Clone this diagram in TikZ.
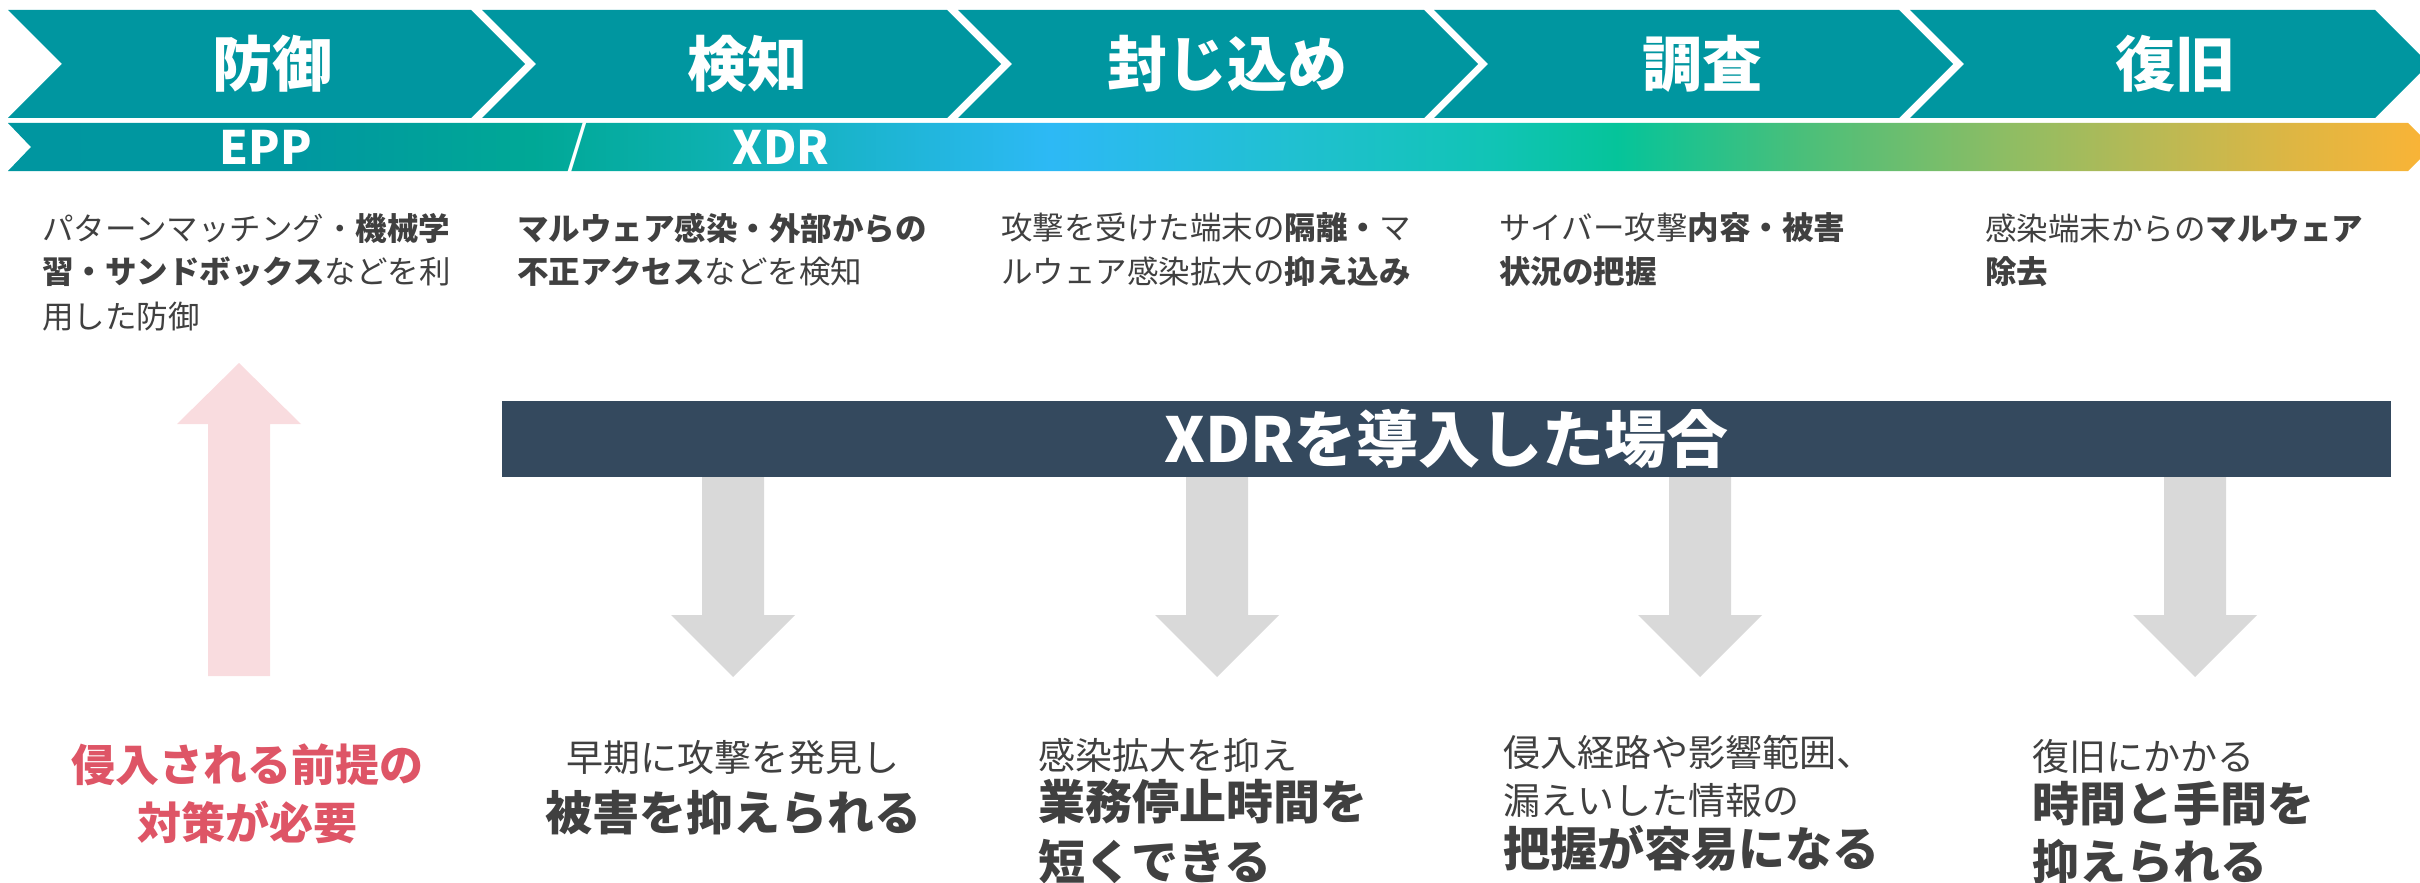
\documentclass[tikz,border=0pt]{standalone}
\usepackage{fontspec}
\setmainfont{Noto Sans CJK JP}
\definecolor{chevcol}{HTML}{0096A0}
\definecolor{bannercol}{HTML}{34495E}
\definecolor{txt}{HTML}{404040}
\definecolor{warnred}{HTML}{DE5566}
\definecolor{pinkcol}{HTML}{F9DCDF}
\definecolor{graycol}{HTML}{D9D9D9}
\definecolor{g0}{HTML}{0096A0}
\definecolor{g1}{HTML}{0098A0}
\definecolor{g2}{HTML}{00A896}
\definecolor{g3}{HTML}{0CB0AE}
\definecolor{g4}{HTML}{2DB9F5}
\definecolor{g5}{HTML}{20C0D0}
\definecolor{g6}{HTML}{10C4B4}
\definecolor{g7}{HTML}{05C49A}
\definecolor{g8}{HTML}{4ABF7A}
\definecolor{g9}{HTML}{8CBD64}
\definecolor{g10}{HTML}{B8B955}
\definecolor{g11}{HTML}{E0B642}
\definecolor{g12}{HTML}{FBB436}
\pgfdeclarehorizontalshading{bandgrad}{100bp}{color(0bp)=(g0); color(25bp)=(g0); color(31bp)=(g1); color(35.8bp)=(g2); color(39.3bp)=(g3); color(46.5bp)=(g4); color(51.6bp)=(g5); color(55.8bp)=(g6); color(58.2bp)=(g7); color(62bp)=(g8); color(66.1bp)=(g9); color(69.2bp)=(g10); color(72.3bp)=(g11); color(75bp)=(g12); color(100bp)=(g12)}
\begin{document}
\begin{tikzpicture}[x=0.5pt,y=-0.5pt,
  chev/.style={fill=chevcol},
  titlelbl/.style={text=white, inner sep=0pt, font=\fontsize{30}{36}\selectfont\bfseries},
  bandlbl/.style={text=white, inner sep=0pt, font=\fontsize{23}{28}\selectfont\bfseries},
  desc/.style={anchor=west, inner sep=0pt, text=txt, font=\fontsize{15.75}{20}\selectfont},
  smalltxt/.style={anchor=west, inner sep=0pt, text=txt, font=\fontsize{18.5}{22}\selectfont},
  bigtxt/.style={anchor=west, inner sep=0pt, text=txt, font=\fontsize{23.5}{28}\selectfont\bfseries},
  warntxt/.style={inner sep=0pt, text=warnred, font=\fontsize{22}{26}\selectfont\bfseries},
  pinkarrow/.style={fill=pinkcol},
  grayarrow/.style={fill=graycol}]
\useasboundingbox (0,0) rectangle (2420,883);
% chevrons
\foreach \L/\R in {8/471,482/947,958/1424,1434/1899,1910/2375}
  \fill[chev] (\L,10) -- (\R,10) -- (\R+54,64) -- (\R,118) -- (\L,118) -- (\L+54,64) -- cycle;
% gradient band
\shade[shading=bandgrad] (8,123) -- (2408,123) -- (2432,147) -- (2408,171) -- (8,171) -- (31,147) -- cycle;
% titles
\node[titlelbl] (t1) at (272,64) {防御};
\node[titlelbl] (t2) at (747,64) {検知};
\node[titlelbl] (t3) at (1227,64) {封じ込め};
\node[titlelbl] (t4) at (1702,64) {調査};
\node[titlelbl] (t5) at (2175,64) {復旧};
% band labels
\node[bandlbl] (epp) at (266,147) {EPP};
\node[text=white, inner sep=0pt, font=\fontsize{27}{30}\selectfont] (slash) at (577,149) {/};
\node[bandlbl] (xdrl) at (781,147) {XDR};
% descriptions
\node[desc] (d1a) at (42,228) {パターンマッチング・\textbf{機械学}};
\node[desc] (d1b) at (42,272) {\textbf{習・サンドボックス}などを利};
\node[desc] (d1c) at (42,317) {用した防御};
\node[desc] (d2a) at (517,228) {\textbf{マルウェア感染・外部からの}};
\node[desc] (d2b) at (517,272) {\textbf{不正アクセス}などを検知};
\node[desc] (d3a) at (1001,228) {攻撃を受けた端末の\textbf{隔離・}マ};
\node[desc] (d3b) at (1001,272) {ルウェア感染拡大の\textbf{抑え込み}};
\node[desc] (d4a) at (1499,228) {サイバー攻撃\textbf{内容・被害}};
\node[desc] (d4b) at (1499,272) {\textbf{状況の把握}};
\node[desc] (d5a) at (1985,228) {感染端末からの\textbf{マルウェア}};
\node[desc] (d5b) at (1985,272) {\textbf{除去}};
% pink up arrow
\fill[pinkarrow] (208,676) -- (208,424) -- (177,424) -- (239,363) -- (301,424) -- (270,424) -- (270,676) -- cycle;
% banner
\node[fill=bannercol, minimum width=944.5pt, minimum height=38pt, inner sep=0pt, text=white,
  font=\fontsize{31}{36}\selectfont\bfseries] (xdr) at (1446.5,439) {XDRを導入した場合};
% gray down arrows
\foreach \c in {733,1217,1700,2195}
  \fill[grayarrow] (\c-31,477) -- (\c+31,477) -- (\c+31,615) -- (\c+62,615) -- (\c,677) -- (\c-62,615) -- (\c-31,615) -- cycle;
% bottom texts
\node[warntxt] (w1) at (247,765) {侵入される前提の};
\node[warntxt] (w2) at (247,822) {対策が必要};
\node[smalltxt, anchor=center] (b2a) at (733,758) {早期に攻撃を発見し};
\node[bigtxt, anchor=center] (b2b) at (733,813) {被害を抑えられる};
\node[smalltxt] (b3a) at (1038,755) {感染拡大を抑え};
\node[bigtxt] (b3b) at (1038,802) {業務停止時間を};
\node[bigtxt] (b3c) at (1038,862) {短くできる};
\node[smalltxt] (b4a) at (1503,752) {侵入経路や影響範囲、};
\node[smalltxt] (b4b) at (1503,800) {漏えいした情報の};
\node[bigtxt] (b4c) at (1503,848) {把握が容易になる};
\node[smalltxt] (b5a) at (2032,756) {復旧にかかる};
\node[bigtxt] (b5b) at (2032,804) {時間と手間を};
\node[bigtxt] (b5c) at (2032,862) {抑えられる};
\end{tikzpicture}
\end{document}
